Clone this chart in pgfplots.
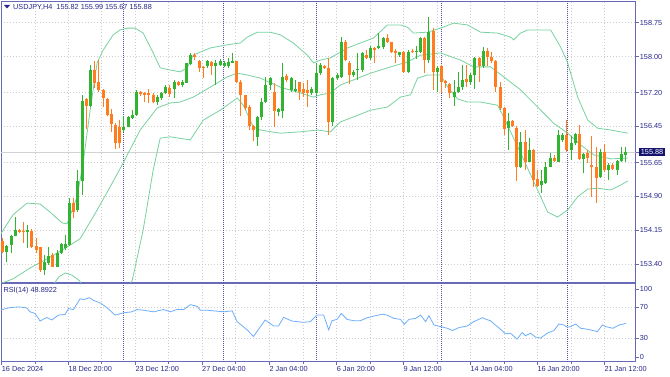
\documentclass[border=0pt]{standalone}
\usepackage{fontspec}
\setmainfont{Liberation Sans}
\usepackage{pgfplots}
\pgfplotsset{compat=1.18}
\usepackage{pgfplotstable}
\definecolor{bullc}{RGB}{50,180,50}
\definecolor{bearc}{RGB}{255,125,30}
\definecolor{bandc}{RGB}{120,210,160}
\definecolor{rsic}{RGB}{110,175,250}
\definecolor{framec}{RGB}{105,105,185}
\definecolor{labc}{RGB}{40,40,140}
\definecolor{sepc}{RGB}{90,80,160}
\definecolor{gridc}{RGB}{205,205,205}
\definecolor{boxc}{RGB}{20,20,110}
\newcommand\mtfont{\fontsize{7.3}{8.5}\selectfont}

\pgfplotstableread{
i o h l c
1 153.67 153.82 153.44 153.80
2 153.82 154.04 153.65 154.02
3 154.02 154.45 154.01 154.15
6 154.10 154.26 153.75 154.15
10 153.27 153.60 153.16 153.45
11 153.42 153.78 153.38 153.58
13 153.34 153.71 153.33 153.65
14 153.64 153.86 153.62 153.84
15 153.75 154.04 153.71 153.84
16 153.82 154.86 153.80 154.75
18 154.60 155.48 154.56 155.23
19 155.23 157.15 154.93 157.02
21 156.90 157.81 156.89 157.70
29 156.36 156.67 156.33 156.44
30 156.44 156.68 156.43 156.65
31 156.63 156.81 156.61 156.70
32 156.70 157.26 156.68 157.22
37 157.00 157.15 156.93 157.11
38 157.07 157.22 157.04 157.20
39 157.20 157.37 157.17 157.32
41 157.29 157.48 157.07 157.44
43 157.37 157.48 157.33 157.44
44 157.42 157.86 157.41 157.85
45 157.83 158.07 157.81 158.03
49 157.78 157.92 157.74 157.89
51 157.79 157.92 157.37 157.85
52 157.81 157.94 157.78 157.89
53 157.78 157.89 157.76 157.85
54 157.78 157.96 157.74 157.88
55 157.86 158.07 157.85 157.89
61 156.22 156.68 156.02 156.65
62 156.65 157.07 156.59 157.00
63 157.00 157.55 156.98 157.37
64 157.37 157.55 157.26 157.52
66 156.78 156.85 156.67 156.84
67 156.80 157.85 156.63 157.55
69 157.26 157.55 157.22 157.53
70 157.24 157.48 157.22 157.29
74 157.18 157.32 157.15 157.27
75 157.18 157.85 157.15 157.63
76 157.63 157.85 157.59 157.81
79 156.55 157.55 156.45 157.52
80 157.52 157.63 157.48 157.59
81 157.55 158.44 157.52 158.33
84 157.59 157.70 157.55 157.66
85 157.69 158.07 157.48 157.72
86 157.70 158.09 157.66 158.07
88 157.96 158.23 157.92 158.18
90 158.18 158.53 158.16 158.23
91 158.20 158.44 158.16 158.40
95 158.03 158.11 158.00 158.09
97 157.66 158.14 157.64 158.11
99 158.11 158.23 157.94 158.13
100 158.11 158.44 158.07 158.42
102 157.92 158.88 157.85 158.55
104 157.66 157.78 157.22 157.74
108 157.10 157.48 156.90 157.22
109 157.22 157.66 157.18 157.33
110 157.32 157.81 157.26 157.48
112 157.44 157.63 157.37 157.59
113 157.59 158.00 157.29 157.96
115 157.78 158.22 157.74 158.13
121 156.41 156.74 155.93 156.56
124 155.54 156.33 155.52 156.11
126 155.67 156.19 155.65 155.93
129 155.15 155.48 154.98 155.23
130 155.19 155.67 155.17 155.56
131 155.56 155.85 155.54 155.74
133 155.67 156.37 155.65 156.26
134 156.15 156.30 156.11 156.26
136 155.93 156.24 155.71 156.08
137 156.08 156.30 156.04 156.28
139 155.72 155.85 155.41 155.84
143 155.32 155.96 155.30 155.89
145 155.48 155.63 155.26 155.59
147 155.48 155.71 155.37 155.68
148 155.68 156.00 155.67 155.84
149 155.82 155.99 155.67 155.88
}\bulltab

\pgfplotstableread{
i o h l c
0 153.90 153.97 153.65 153.67
4 154.15 154.17 154.08 154.10
5 154.14 154.34 153.86 154.10
7 154.14 154.17 153.75 153.78
8 153.80 153.97 153.65 153.70
9 153.77 153.78 153.23 153.27
12 153.59 153.65 153.33 153.34
17 154.75 154.86 154.41 154.56
20 157.05 157.07 156.39 156.90
22 157.70 157.89 157.30 157.41
23 157.44 157.92 157.22 157.26
24 157.26 157.27 156.89 157.08
25 157.05 157.07 156.67 156.71
26 156.73 156.83 156.33 156.50
27 156.48 156.52 155.94 156.08
28 156.43 156.59 155.97 156.08
33 157.22 157.24 157.12 157.16
34 157.18 157.22 157.00 157.14
35 157.18 157.29 156.96 157.14
36 157.14 157.18 156.96 156.99
40 157.30 157.37 157.11 157.16
42 157.44 157.46 157.35 157.37
46 158.03 158.07 157.92 158.00
47 157.89 157.92 157.66 157.75
48 157.77 157.78 157.52 157.75
50 157.87 157.89 157.59 157.79
56 157.89 157.90 157.41 157.44
57 157.44 157.48 156.67 157.15
58 157.15 157.15 156.81 156.85
59 156.89 156.92 156.37 156.45
60 156.45 156.48 156.13 156.37
65 157.22 157.41 156.44 156.80
68 157.57 157.61 157.44 157.48
71 157.44 157.44 157.04 157.22
72 157.27 157.41 157.11 157.20
73 157.26 157.48 156.89 157.18
77 157.79 157.81 157.72 157.74
78 157.74 157.96 156.25 156.55
82 158.33 158.37 157.89 157.92
83 157.86 157.89 157.39 157.59
87 158.03 158.14 157.94 157.96
89 158.18 158.22 157.85 158.15
92 158.40 158.51 158.29 158.33
93 158.32 158.33 158.07 158.09
94 158.12 158.16 157.85 158.07
96 158.11 158.12 157.63 157.66
98 158.13 158.16 158.07 158.10
101 158.42 158.44 157.63 157.92
103 158.57 158.63 157.26 157.66
105 157.79 157.81 157.18 157.44
106 157.46 157.48 157.30 157.41
107 157.39 157.41 157.07 157.18
111 157.50 157.81 157.33 157.44
114 157.96 158.00 157.44 157.78
116 158.13 158.18 157.78 158.00
117 158.00 158.11 157.85 157.89
118 157.91 157.92 157.22 157.33
119 157.33 157.44 156.81 156.85
120 156.85 156.89 156.26 156.39
122 156.56 156.59 156.44 156.46
123 156.41 156.45 155.23 155.54
125 156.11 156.37 155.48 155.67
127 155.93 155.94 155.11 155.26
128 155.28 155.48 155.11 155.13
132 155.74 155.82 155.67 155.68
135 156.26 156.59 155.89 155.93
138 156.28 156.48 155.71 155.72
140 155.85 155.93 155.63 155.74
141 155.59 156.24 154.89 155.56
142 155.56 156.00 154.76 155.30
144 155.89 156.07 155.45 155.48
146 155.59 155.63 155.48 155.50
}\beartab

\pgfplotstableread{
i p
-0.65 154.04
2.47 154.49
5.82 154.75
8.94 154.73
11.33 154.55
14.21 154.31
15.40 154.29
17.80 154.89
19.24 155.64
20.92 156.81
22.59 157.86
24.03 158.14
26.43 158.48
28.10 158.59
29.78 158.63
31.70 158.63
33.61 158.52
36.01 158.08
37.69 157.75
40.08 157.70
42.48 157.66
44.15 157.75
45.59 158.03
49.67 158.19
53.74 158.26
56.85 158.30
58.53 158.43
60.93 158.54
64.04 158.54
66.44 158.48
69.55 158.30
72.91 158.03
74.34 157.86
76.02 157.92
78.41 157.97
82.49 158.19
85.60 158.30
88.71 158.41
92.07 158.70
95.18 158.70
96.86 158.65
98.30 158.52
101.65 158.54
104.77 158.63
107.88 158.74
111.24 158.70
114.35 158.54
118.42 158.52
121.54 158.43
122.26 158.37
123.93 158.52
125.61 158.59
131.12 158.59
133.51 158.21
135.19 157.86
137.59 157.10
139.98 156.59
142.38 156.41
145.50 156.37
149.57 156.30
}\bbup

\pgfplotstableread{
i p
-0.65 152.96
2.47 153.07
6.54 153.31
11.33 153.55
14.93 153.75
18.52 153.96
21.63 154.44
25.71 155.11
28.82 155.64
32.89 156.37
36.97 156.86
40.08 156.97
42.48 156.99
45.59 157.10
49.67 157.32
53.74 157.55
56.13 157.63
58.53 157.59
61.64 157.52
66.44 157.32
71.23 157.19
74.34 157.10
76.02 157.15
78.41 157.19
80.81 157.37
83.92 157.48
88.00 157.63
92.07 157.75
96.86 157.88
99.98 158.03
104.77 158.08
109.56 157.92
112.67 157.77
116.75 157.77
119.86 157.55
123.93 157.26
128.00 156.88
131.84 156.52
135.19 156.30
138.31 156.04
141.42 155.82
145.50 155.73
149.57 155.75
}\bbmid

\pgfplotstableread{
i p
-0.65 151.88
2.47 151.65
6.54 151.90
10.50 152.60
12.50 152.99
13.50 153.12
15.00 153.20
16.60 153.15
18.50 153.02
20.00 152.60
22.00 151.70
25.70 151.80
28.80 152.66
31.00 153.04
33.60 154.15
36.00 155.48
37.69 156.19
40.08 156.22
44.87 156.15
47.99 156.59
52.06 156.81
56.13 157.08
57.57 156.92
59.97 156.44
61.64 156.37
66.44 156.30
71.23 156.33
75.30 156.37
78.41 156.33
80.81 156.55
83.92 156.66
88.00 156.81
92.07 156.88
95.18 157.10
97.58 157.15
99.26 157.52
101.65 157.59
104.77 157.59
106.68 157.30
108.84 157.06
111.24 156.99
114.35 156.99
118.42 156.92
119.86 156.66
123.93 155.86
128.00 155.04
130.40 154.55
132.80 154.44
135.19 154.60
137.59 154.89
139.98 155.06
142.38 155.08
145.50 155.04
147.89 155.15
149.57 155.24
}\bblow

\pgfplotstableread{
i r
-0.65 65.8
1.75 69.2
4.14 70.0
5.74 68.7
6.54 63.7
7.74 61.6
8.94 51.9
10.53 56.5
11.73 53.2
13.33 59.5
14.93 60.3
15.73 67.9
16.92 66.6
18.52 80.5
19.32 79.3
20.76 81.8
21.71 78.4
23.31 75.1
24.90 69.2
26.90 59.5
28.90 62.4
30.90 63.7
32.10 66.6
33.70 65.8
36.10 63.7
38.50 66.6
40.10 63.7
41.70 66.6
43.30 66.6
44.90 72.9
46.50 70.8
47.30 65.8
48.90 65.8
50.50 64.9
52.90 63.7
54.90 64.9
56.10 51.1
58.50 40.5
60.00 32.1
62.80 53.2
64.80 45.6
66.00 45.6
67.20 56.5
69.20 51.9
72.00 50.2
73.60 51.1
75.20 59.5
76.80 59.5
78.00 40.5
78.80 52.3
80.00 54.0
81.00 61.6
82.40 54.0
84.00 52.3
85.60 52.3
87.20 56.1
88.80 58.2
90.80 60.7
92.00 59.5
93.60 55.3
95.20 54.0
96.10 47.7
97.20 54.0
98.80 55.3
100.00 59.5
101.20 51.1
102.00 58.6
103.20 46.8
104.80 44.7
106.40 42.6
107.60 39.7
109.20 43.5
111.20 45.6
112.70 51.1
113.60 53.2
114.80 56.1
115.50 54.4
116.70 52.3
117.90 46.8
119.10 41.4
120.30 35.5
121.50 36.3
123.10 28.7
124.30 37.2
125.10 33.0
126.30 36.3
127.50 31.3
128.70 30.0
130.30 36.3
131.90 39.7
133.10 48.1
134.30 46.8
135.10 43.9
135.90 44.7
137.10 48.1
138.30 42.6
139.90 41.4
142.30 38.4
143.50 46.8
144.30 44.7
146.00 42.6
147.50 46.8
149.10 48.9
}\rsitab

\pgfplotsset{
  mtbase/.style={
    scale only axis, width=634.7pt,
    xmin=-0.41, xmax=151.47, clip=true,
    axis line style={framec, line width=0.8pt},
    tick style={framec, line width=0.6pt},
    major tick length=3pt, minor tick length=2pt,
    tick align=outside,
    ytick pos=right, yticklabel pos=right,
    yticklabel style={font=\mtfont, text=labc, anchor=west, inner sep=1pt},
    xtick={-0.24,15.70,31.73,47.69,63.80,79.92,95.86,111.89,127.93,143.96},
    minor xtick={7.73,23.71,39.71,55.75,71.86,87.89,103.88,119.91,135.95},
    xmajorgrids, xminorgrids, ymajorgrids,
    major grid style={gridc, dash pattern=on 1pt off 2pt, line width=0.6pt},
    minor grid style={gridc, dash pattern=on 1pt off 2pt, line width=0.6pt},
    extra x ticks={28.86,52.79,74.97,104.88,135.11},
    extra x tick labels={},
    extra x tick style={grid=major, tick style={draw=none},
      major grid style={sepc, dash pattern=on 1pt off 1pt, line width=0.8pt}},
  }
}

\begin{document}
\begin{tikzpicture}
\fill[white] (0,0) rectangle (670pt,376pt);
\path[use as bounding box] (0,0) rectangle (670pt,376pt);

% main price panel
\begin{axis}[mtbase,
  at={(1pt,93.5pt)}, anchor=south west, height=281.5pt,
  ymin=152.989, ymax=159.231,
  xticklabels={}, xtick style={draw=none},
  ytick={153.40,154.15,154.90,155.65,156.45,157.20,158.00,158.75},
  yticklabels={153.40,154.15,154.90,155.65,156.45,157.20,158.00,158.75},
  extra y ticks={155.88}, extra y tick labels={155.88},
  extra y tick style={grid=none, yticklabel style={fill=boxc, text=white, inner xsep=2pt, inner ysep=1.5pt}},
]
\addplot[gray!35, line width=0.7pt, forget plot] coordinates {(-1,155.88) (152,155.88)};
\addplot[bandc, line width=0.8pt, forget plot] table[x=i, y=p] {\bbup};
\addplot[bandc, line width=0.8pt, forget plot] table[x=i, y=p] {\bbmid};
\addplot[bandc, line width=0.8pt, forget plot] table[x=i, y=p] {\bblow};
\addplot[forget plot, bullc, line width=1pt, -, quiver={u=0, v=\thisrow{h}-\thisrow{l}}] table[x=i, y=l] {\bulltab};
\addplot[forget plot, bullc, line width=3pt, line cap=butt, -, quiver={u=0, v=\thisrow{c}-\thisrow{o}}] table[x=i, y=o] {\bulltab};
\addplot[forget plot, bearc, line width=1pt, -, quiver={u=0, v=\thisrow{h}-\thisrow{l}}] table[x=i, y=l] {\beartab};
\addplot[forget plot, bearc, line width=3pt, line cap=butt, -, quiver={u=0, v=\thisrow{c}-\thisrow{o}}] table[x=i, y=o] {\beartab};
\end{axis}

% RSI panel
\begin{axis}[mtbase,
  at={(1pt,14.5pt)}, anchor=south west, height=78pt,
  ymin=0, ymax=100,
  xtick pos=bottom,
  xticklabels={16 Dec 2024,18 Dec 20:00,23 Dec 12:00,27 Dec 04:00,2 Jan 04:00,6 Jan 20:00,9 Jan 12:00,14 Jan 04:00,16 Jan 20:00,21 Jan 12:00},
  xticklabel style={font=\mtfont, text=labc, anchor=north west, inner sep=0pt, yshift=-2pt},
  ytick={30,70}, yticklabels={30,70},
  extra y ticks={5.8,93}, extra y tick labels={0,100},
  extra y tick style={grid=none},
]
\addplot[rsic, line width=0.8pt, forget plot] table[x=i, y=r] {\rsitab};
\end{axis}

\fill[labc] (4pt,371pt) -- (10pt,371pt) -- (7pt,367.5pt) -- cycle;
\node[anchor=west, inner sep=0pt, font=\mtfont, text=labc] at (13pt,369pt) {USDJPY,H4\ \ 155.82 155.99 155.67 155.88};
\node[anchor=west, inner sep=0pt, font=\mtfont, text=labc] at (3.3pt,85.3pt) {RSI(14) 48.8922};
\end{tikzpicture}
\end{document}
